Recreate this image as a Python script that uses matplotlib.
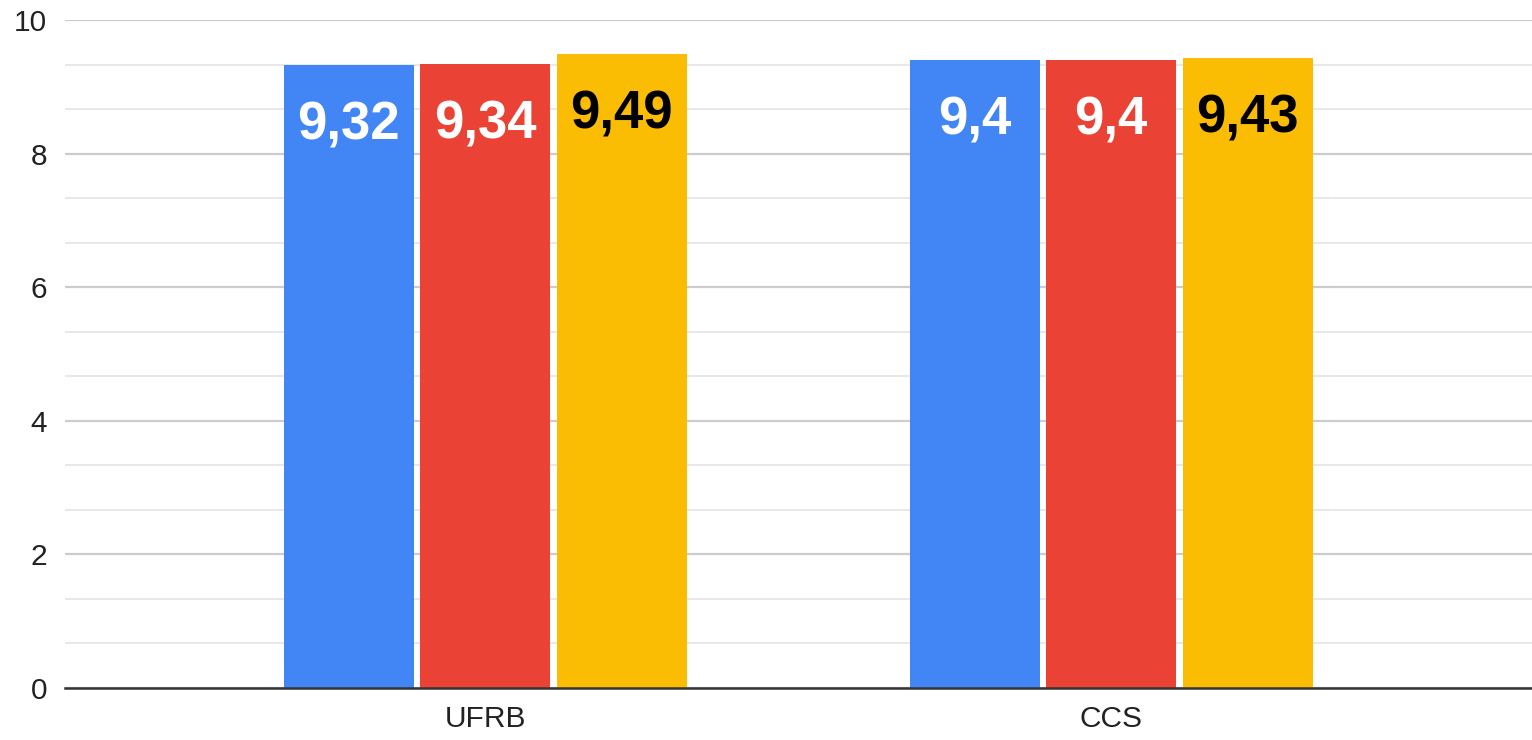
import matplotlib
matplotlib.use("Agg")
import matplotlib.pyplot as plt
import numpy as np
from matplotlib.ticker import MultipleLocator

categories = ["UFRB", "CCS"]
series_a = [9.32, 9.4]
series_b = [9.34, 9.4]
series_c = [9.49, 9.43]
series = [series_a, series_b, series_c]
colors = ["#4285F4", "#EA4335", "#FBBC04"]
label_colors = ["white", "white", "black"]
y_ticks = [0, 2, 4, 6, 8, 10]

plt.rcParams['font.family'] = ['Liberation Sans', 'DejaVu Sans']

fig = plt.figure(figsize=(15.32, 7.40), dpi=100)
ax = fig.add_axes([65/1532, 1 - 688/740, (1532-65)/1532, (688-20)/740])

x = np.arange(len(categories))
bw = 0.208
step = 0.218
for i, (vals, c, lc) in enumerate(zip(series, colors, label_colors)):
    pos = x + (i - 1) * step
    bars = ax.bar(pos, vals, width=bw, color=c, zorder=3)
    for b, v in zip(bars, vals):
        txt = f"{v:g}".replace(".", ",")
        ax.annotate(txt, (b.get_x() + b.get_width()/2, v), xytext=(0, -74/100*72),
                    textcoords="offset points", ha="center", va="baseline",
                    fontsize=38, fontweight="bold", color=lc, zorder=4)

ax.set_xlim(-0.671, 1.672)
ax.set_ylim(0, 10)
ax.set_yticks(y_ticks)
ax.yaxis.set_minor_locator(MultipleLocator(2/3))
ax.grid(axis="y", which="major", color="#cccccc", linewidth=1.6, zorder=0)
ax.grid(axis="y", which="minor", color="#e8e8e8", linewidth=1.4, zorder=0)
ax.set_xticks(x)
ax.set_xticklabels(categories)
ax.tick_params(axis="both", which="both", length=0, labelsize=21.5, colors="#222222")
ax.tick_params(axis="y", pad=13)
ax.tick_params(axis="x", pad=12)
for s in ["top", "right", "left"]:
    ax.spines[s].set_visible(False)
ax.spines["bottom"].set_color("#333333")
ax.spines["bottom"].set_linewidth(1.8)
ax.spines["bottom"].set_zorder(5)

fig.savefig("out.png", dpi=100, facecolor="white")
